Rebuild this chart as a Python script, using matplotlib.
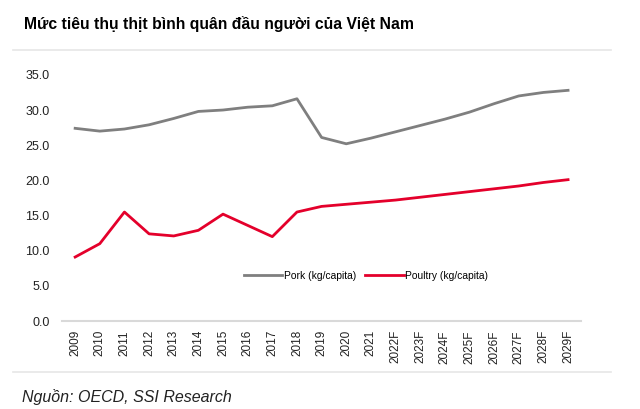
import matplotlib
matplotlib.use("Agg")
import matplotlib.pyplot as plt

plt.rcParams['font.family'] = ['Liberation Sans', 'DejaVu Sans']

YEARS = ["2009", "2010", "2011", "2012", "2013", "2014", "2015", "2016", "2017",
         "2018", "2019", "2020", "2021", "2022F", "2023F", "2024F", "2025F",
         "2026F", "2027F", "2028F", "2029F"]

PORK = [27.4, 27.0, 27.3, 27.9, 28.8, 29.8, 30.0, 30.4, 30.6, 31.6, 26.1,
        25.2, 26.0, 26.9, 27.8, 28.7, 29.7, 30.9, 32.0, 32.5, 32.8]

POULTRY = [9.1, 11.0, 15.5, 12.4, 12.1, 12.9, 15.2, 13.6, 12.0, 15.5, 16.3,
           16.6, 16.9, 17.2, 17.6, 18.0, 18.4, 18.8, 19.2, 19.7, 20.1]

Y_TICKS = [0, 5, 10, 15, 20, 25, 30, 35]

GRAY = "#7f7f7f"
RED = "#e4002b"

fig = plt.figure(figsize=(6.4, 4.09), dpi=100)
ax = fig.add_axes([0.097, 0.215, 0.811, 0.602])

x = list(range(len(YEARS)))
ax.plot(x, PORK, color=GRAY, lw=2.0, label="Pork (kg/capita)")
ax.plot(x, POULTRY, color=RED, lw=2.0, label="Poultry (kg/capita)")

ax.set_xlim(-0.53, len(YEARS) - 0.47)
ax.set_ylim(0, 35)
ax.set_xticks(x)
ax.set_xticklabels(YEARS, rotation=90, fontsize=8.5)
ax.set_yticks(Y_TICKS)
ax.set_yticklabels([f"{v:.1f}" for v in Y_TICKS], fontsize=9)
ax.tick_params(length=0, colors="#222222")
ax.tick_params(axis="x", pad=6.5)
ax.tick_params(axis="y", pad=9)

for side in ("top", "right", "left"):
    ax.spines[side].set_visible(False)
ax.spines["bottom"].set_color("#d9d9d9")
ax.spines["bottom"].set_linewidth(1.5)

ax.legend(loc="center", bbox_to_anchor=(0.586, 0.183), ncol=2, frameon=False,
          fontsize=7.4, handlelength=3.7, handletextpad=0.15, columnspacing=0.9)

fig.text(0.037, 0.941, "Mức tiêu thụ thịt bình quân đầu người của Việt Nam",
         fontsize=11.3, fontweight="bold", va="center", ha="left")
fig.add_artist(plt.Line2D([0.02, 0.955], [0.878, 0.878], color="#e6e6e6", lw=1.2))
fig.add_artist(plt.Line2D([0.02, 0.955], [0.090, 0.090], color="#e6e6e6", lw=1.2))
fig.text(0.034, 0.029, "Nguồn: OECD, SSI Research", fontsize=11.5, style="italic",
         va="center", ha="left", color="#222222")

fig.savefig("out.png", dpi=100)
